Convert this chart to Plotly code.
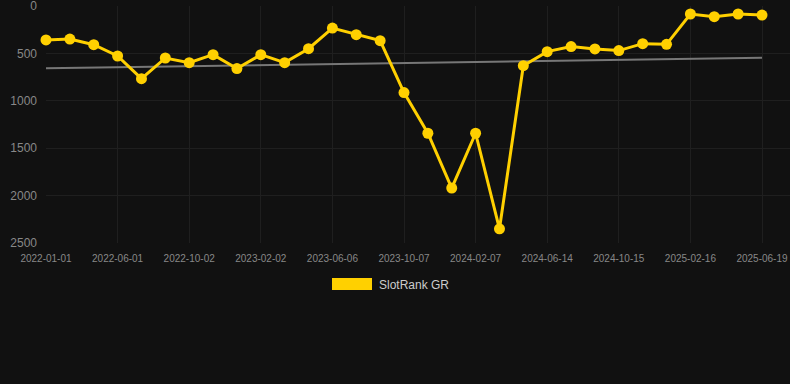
import plotly.graph_objects as go

tick_labels = ["2022-01-01", "2022-06-01", "2022-10-02", "2023-02-02", "2023-06-06",
               "2023-10-07", "2024-02-07", "2024-06-14", "2024-10-15", "2025-02-16",
               "2025-06-19"]
rank_values = [358, 348, 408, 527, 766, 548, 597, 513, 660, 513, 597, 450, 232, 302, 365,
               913, 1342, 1921, 1342, 2350, 629, 481, 428, 453, 470, 397, 404, 84, 112, 84, 95]
trend_values = [657, 545]
series_name = "SlotRank GR"

n = len(rank_values)
x_idx = list(range(n))
tick_pos = list(range(0, n, 3))

W, H = 790, 384
L, R, T, B = 46, 0, 6, 141
pw, ph = W - L - R, H - T - B

fig = go.Figure()
fig.add_trace(go.Scatter(
    x=[0, n - 1], y=trend_values, mode="lines",
    line=dict(color="#777777", width=2), hoverinfo="skip", showlegend=False))
fig.add_trace(go.Scatter(
    x=x_idx, y=rank_values, mode="lines+markers", name=series_name,
    line=dict(color="#FFD000", width=3),
    marker=dict(color="#FFD000", size=11), showlegend=False, cliponaxis=False))

# legend drawn manually (filled rectangle + label)
def px_x(p):
    return (p - L) / pw

def px_y(p):
    return (H - B - p) / ph

fig.add_shape(type="rect", xref="paper", yref="paper",
              x0=px_x(332), x1=px_x(372), y0=px_y(290), y1=px_y(278),
              fillcolor="#FFD000", line=dict(width=0))
fig.add_annotation(xref="paper", yref="paper", x=px_x(377), y=px_y(284.5),
                   xanchor="left", yanchor="middle", showarrow=False,
                   text=series_name, font=dict(size=12, color="#cccccc"))

fig.update_layout(
    width=W, height=H,
    margin=dict(l=L, r=R, t=T, b=B, pad=0),
    paper_bgcolor="#111111", plot_bgcolor="#111111",
    font=dict(family="Liberation Sans, Arial, sans-serif", color="#888888"),
    showlegend=False,
    xaxis=dict(range=[0, pw / ((762 - 46) / (n - 1))], tickmode="array",
               tickvals=tick_pos, ticktext=tick_labels,
               tickfont=dict(size=10, color="#888888"),
               showgrid=True, gridcolor="#1f1f1f", gridwidth=1,
               zeroline=False, showline=False, ticks="", ticklabelstandoff=8,
               ticklabeloverflow="allow"),
    yaxis=dict(range=[2500, -0.5], tickmode="array",
               tickvals=[0, 500, 1000, 1500, 2000, 2500],
               ticktext=["0", "500", "1000", "1500", "2000", "2500"],
               tickfont=dict(size=12, color="#888888"),
               showgrid=True, gridcolor="#1f1f1f", gridwidth=1,
               zeroline=False, showline=False, ticks="", ticklabelstandoff=8,
               ticklabeloverflow="allow"),
)

fig.write_html("out.html", config={"displayModeBar": False},
               post_script="document.body.style.margin='0';document.body.style.background='#111111';")
